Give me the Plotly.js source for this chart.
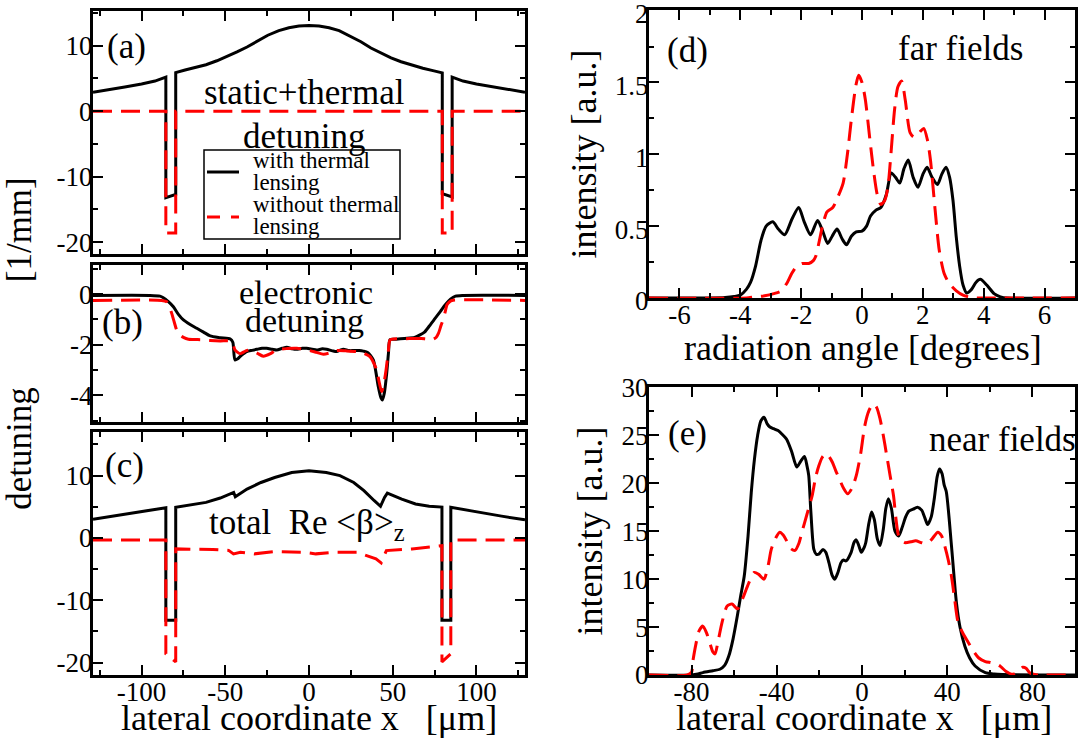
<!DOCTYPE html>
<html><head><meta charset="utf-8">
<script src="https://cdn.plot.ly/plotly-3.0.1.min.js"></script>
<style>html,body{margin:0;padding:0;background:#fff}</style>
</head><body><div id="chart" style="width:1083px;height:740px"></div>
<script>
// ---------- DATA ----------
// (a) static + thermal detuning [1/mm]
var aWithX = [-129,-120,-110,-100,-92,-85.5,-85.5,-79.6,-79.6,-74,-68,-61.5,-55,-49,-43,-37,-31,-24.6,-18,-12,-6,0,6,12,18,24.6,31,37,43,49,55,61.5,68,74,79.6,79.6,85.5,85.5,92,100,110,120,129];
var aWithY = [2.9,3.25,3.7,4.15,4.6,5.2,-13.2,-12.7,5.9,6.3,6.65,7.1,7.7,8.35,9.05,9.8,10.7,11.6,12.3,12.75,13.0,13.1,13.0,12.75,12.3,11.5,10.6,9.65,8.9,8.15,7.55,7.0,6.55,6.2,5.85,-12.6,-13.1,5.2,4.6,4.15,3.7,3.25,2.9];
var aWithoutX = [-129,-85.5,-85.5,-79.6,-79.6,79.6,79.6,85.5,85.5,129];
var aWithoutY = [0,0,-18.6,-18.6,0,0,-18.6,-18.6,0,0];

// (b) electronic detuning
var bWithX = [-129,-95,-89,-87,-84,-81,-78,-75,-71,-67,-63,-59,-53,-47,-45.5,-44.2,-42.5,-41.2,-39,-37.2,-34,-31.2,-28,-25.3,-22,-19.3,-16,-13.3,-10,-7.4,-4,-1.4,2,4.6,8,10.5,14,16.5,19,20.5,24,26.5,30,32.5,35,38.4,40,41.4,43,43.8,45,46.4,47.5,48.4,52,57,63,66,69,72,75.3,78.5,81.4,84.5,87.5,92,129];
var bWithY = [-0.05,-0.05,-0.08,-0.14,-0.3,-0.5,-0.8,-1.02,-1.2,-1.35,-1.5,-1.65,-1.72,-1.77,-1.9,-2.6,-2.55,-2.47,-2.35,-2.27,-2.22,-2.18,-2.14,-2.14,-2.18,-2.21,-2.14,-2.1,-2.16,-2.18,-2.14,-2.14,-2.18,-2.21,-2.16,-2.18,-2.24,-2.27,-2.2,-2.18,-2.23,-2.23,-2.23,-2.25,-2.3,-2.6,-3.1,-3.66,-4.1,-4.18,-3.9,-3.13,-2.3,-1.8,-1.78,-1.75,-1.71,-1.62,-1.5,-1.25,-0.96,-0.68,-0.42,-0.2,-0.08,-0.05,-0.05];
var bWithoutX = [-129,-88,-85,-83.5,-82,-80.5,-79,-77,-75,-72,-69,-64,-59,-53,-47,-45.5,-44.2,-41.2,-38,-35.2,-31,-27.3,-23,-19.3,-13,-7.3,-3,0.6,4.5,8.6,12.5,16.5,22,28.5,33,36.4,38.5,40.4,42,43.4,44.8,46,47.3,48.4,50.7,57,63,67,71,74,76,77.3,78.8,80.3,81.4,82.4,84,85.4,129];
var bWithoutY = [-0.25,-0.25,-0.3,-0.5,-0.76,-1.1,-1.42,-1.62,-1.71,-1.78,-1.79,-1.8,-1.83,-1.85,-1.85,-1.95,-2.2,-2.35,-2.25,-2.2,-2.33,-2.45,-2.35,-2.2,-2.15,-2.14,-2.18,-2.23,-2.3,-2.37,-2.32,-2.23,-2.24,-2.27,-2.35,-2.47,-2.7,-3.0,-3.5,-3.85,-3.5,-3.0,-2.3,-1.81,-1.77,-1.76,-1.75,-1.75,-1.78,-1.78,-1.7,-1.55,-1.25,-0.96,-0.68,-0.42,-0.3,-0.25,-0.25];

// (c) total Re<beta>_z
var cWithX = [-129,-115,-100,-86,-85.5,-85.5,-79.6,-79.6,-70,-61.5,-53,-46,-45,-44,-37,-28.7,-20.5,-10.3,0,10.3,18.5,26.7,32.8,39,42.7,45.1,46.8,55.4,63.6,71.8,79.4,79.4,84.7,84.7,95,105,115,129];
var cWithY = [3.0,3.6,4.2,4.8,4.85,-13.2,-13.2,4.9,5.3,5.7,6.4,7.2,7.3,6.6,7.84,8.9,9.7,10.5,10.77,10.5,10.0,8.9,7.6,5.97,5.07,6.5,7.2,6.24,5.44,5.07,4.95,-13.2,-13.2,4.9,4.4,3.95,3.5,2.9];
var cWithoutX = [-129,-85.5,-85.5,-79.6,-79.6,-70,-57.4,-48,-45.1,-41,-32.8,-20.5,-10.3,-3,4.1,16.4,28.7,34.9,40,43.1,46.2,61.5,70,79.4,79.4,84.7,84.7,129];
var cWithoutY = [-0.35,-0.35,-18.6,-19.9,-1.76,-1.76,-1.87,-2.0,-2.56,-2.3,-2.56,-2.19,-2.19,-2.3,-2.56,-2.3,-2.3,-2.83,-3.36,-4.0,-2.03,-1.76,-1.5,-1.23,-19.9,-18.6,-0.35,-0.35];

// (d) far fields
var dWithX = [-7,-5,-4.5,-4.2,-4.0,-3.8,-3.66,-3.5,-3.32,-3.15,-2.93,-2.75,-2.54,-2.3,-2.08,-1.9,-1.69,-1.46,-1.3,-1.13,-0.98,-0.82,-0.65,-0.51,-0.35,-0.19,0.0,0.15,0.28,0.45,0.62,0.8,0.96,1.1,1.24,1.38,1.52,1.68,1.84,2.0,2.14,2.3,2.48,2.62,2.76,2.88,2.99,3.1,3.21,3.32,3.44,3.6,3.75,3.89,4.1,4.34,4.55,4.79,7];
var dWithY = [0,0,0.003,0.01,0.02,0.06,0.11,0.22,0.40,0.50,0.53,0.48,0.44,0.55,0.63,0.53,0.44,0.54,0.47,0.38,0.43,0.48,0.41,0.37,0.43,0.46,0.465,0.50,0.57,0.61,0.63,0.72,0.87,0.84,0.80,0.90,0.96,0.84,0.77,0.86,0.91,0.84,0.79,0.86,0.91,0.84,0.68,0.42,0.22,0.09,0.035,0.06,0.11,0.13,0.09,0.03,0.008,0,0];
var dWithoutX = [-7,-3.8,-3.55,-3.2,-2.9,-2.65,-2.45,-2.31,-2.15,-1.97,-1.75,-1.6,-1.52,-1.4,-1.3,-1.15,-0.96,-0.8,-0.62,-0.48,-0.34,-0.2,-0.11,0.0,0.11,0.25,0.39,0.5,0.62,0.75,0.85,0.95,1.07,1.18,1.3,1.42,1.58,1.7,1.8,1.92,2.03,2.15,2.25,2.4,2.54,2.7,2.87,3.1,3.32,3.66,4,7];
var dWithoutY = [0,0,0.007,0.015,0.03,0.05,0.11,0.17,0.22,0.24,0.24,0.26,0.29,0.40,0.50,0.60,0.63,0.70,0.80,1.00,1.26,1.48,1.55,1.50,1.38,1.12,0.87,0.72,0.65,0.68,0.77,1.00,1.31,1.47,1.51,1.38,1.15,1.12,1.13,1.16,1.18,1.10,0.96,0.62,0.33,0.17,0.10,0.05,0.02,0.002,0,0];

// (e) near fields
var eWithX = [-100,-80,-77,-74.7,-70,-66.7,-64.5,-62.5,-60.5,-58.5,-57,-55.3,-53.5,-52,-50.5,-49,-47.5,-46,-44.5,-43.4,-41.5,-39.4,-37.4,-35.4,-33,-30.6,-28.8,-27,-25.8,-25,-24,-22.6,-21.5,-20.3,-18.3,-17,-15.5,-14,-12.8,-11.3,-9.9,-8.7,-7.5,-5.1,-3.8,-2.7,-1.5,-0.3,1.0,1.75,3.2,4.5,5.8,7.2,8.5,10,11.2,12.4,13.8,15.5,17.2,19,20.5,22,24,26,28,29.5,30.8,32.5,34,35.3,36.4,37.6,38.6,39.6,42,44.3,46,48.3,50.5,53.1,57.9,62,66,100];
var eWithY = [0,0,0.1,0.25,0.45,0.6,1.0,2.0,3.8,6.2,8.2,10.3,14.5,19,22.5,25,26.5,26.9,26.2,25.9,25.7,25.5,25.1,24.6,23.3,21.7,22.3,22.8,21.8,20.8,17,13.1,12.6,12.6,13.1,12.8,11.7,10.4,10.0,10.7,11.7,12.0,11.9,12.8,13.8,14.1,13.5,12.8,13.3,13.8,15.8,17,16.2,14.2,13.5,15.2,17.4,18.4,17.4,15.0,14.5,15.5,16.5,17.1,17.3,17.5,17.2,16.4,15.7,16.5,18.5,20.7,21.5,21.0,19.8,19.1,13.5,7.6,5.0,3.0,1.8,0.94,0.24,0.1,0.05,0];
var eWithoutX = [-100,-82,-80,-79.5,-78,-76.5,-74.7,-73,-71.5,-70,-69,-67.5,-65.7,-63.3,-61,-58.5,-56,-53.7,-50.6,-48.5,-46,-44,-42.6,-40.5,-38.6,-37,-35.4,-33.5,-31.4,-29.7,-28.2,-25.8,-23.4,-21.8,-20.3,-18.7,-17,-15.5,-13.9,-12.3,-10.7,-8.7,-6.7,-4.7,-2.7,-0.7,1.3,3.3,5.3,6.9,8.5,10,11.6,13.2,14.8,16,17.2,18.8,20.4,23,25.2,28,30,32.5,35.6,37.4,38.8,40.5,42,43.5,45.1,47.5,49.9,52.3,54.7,57.9,60.3,62.7,65,67.5,70.7,73,75.5,77,78.7,81,83,100];
var eWithoutY = [0,0,0.3,1.3,3.2,4.6,5.1,4.4,3.4,2.4,2.2,3.6,5.5,7.2,7.4,6.9,8.0,9.3,10.7,10.5,10.0,11.5,13.1,14.3,14.9,14.6,14.0,13.2,13.0,13.7,14.9,16.8,18.7,20.6,21.8,22.7,23.1,22.8,22.2,21.3,20.5,19.5,18.9,19.5,20.8,23.0,26.0,27.6,28.3,27.9,26.7,25.0,22.9,20.8,18.7,16.2,14.5,14.0,13.8,13.9,14.0,13.8,13.7,14.1,14.9,14.5,13.5,12.0,10.3,7.9,5.5,4.3,3.4,2.5,1.8,1.4,1.3,1.2,0.9,0.4,0.07,0.3,0.8,0.7,0.24,0.05,0,0];

// tick labels
var latTickVals = [-100,-50,0,50,100];
var latTickText = ['-100','-50','0','50','100'];
var detTickVals = [-20,-10,0,10];
var detTickText = ['-20','-10','0','10'];
var elTickVals = [-4,-2,0];
var elTickText = ['-4','-2','0'];
var angTickVals = [-6,-4,-2,0,2,4,6];
var angTickText = ['-6','-4','-2','0','2','4','6'];
var farTickVals = [0,0.5,1,1.5,2];
var farTickText = ['0','0.5','1','1.5','2'];
var nearXTickVals = [-80,-40,0,40,80];
var nearXTickText = ['-80','-40','0','40','80'];
var nearYTickVals = [0,5,10,15,20,25,30];
var nearYTickText = ['0','5','10','15','20','25','30'];

var seriesNames = ['with thermal lensing','without thermal lensing'];

// ---------- STYLE / LAYOUT ----------
var FONT = 'Liberation Serif';
var W = 1083, H = 740;
function px(x){return x/W;}
function py(y){return 1-y/H;}

function axis(dom, range, tv, tt, minorD, showLab, anchor, isY, extra){
  return Object.assign({
    domain: dom, range: range, anchor: anchor,
    tickmode:'array', tickvals: tv, ticktext: tt, showticklabels: showLab,
    ticks:'inside', ticklen:10, tickwidth:2, tickcolor:'#000',
    ticklabelstandoff: isY ? -8 : -9, ticklabeloverflow:'allow',
    minor:{ticks:'inside', ticklen:5, tickwidth:2, tickcolor:'#000', tickmode:'linear', tick0:0, dtick:minorD, showgrid:false},
    showline:true, linewidth:3, linecolor:'#000', mirror:'ticks',
    showgrid:false, zeroline:false, fixedrange:true,
    tickfont:{family:FONT, size:27, color:'#000'}
  }, extra||{});
}

var LX = [px(93), px(525)], RX = [px(649), px(1075)];
var titleFont = {family:FONT, size:36, color:'#000'};

var layout = {
  width:W, height:H, margin:{l:0,r:0,t:0,b:0}, paper_bgcolor:'#fff', plot_bgcolor:'#fff',
  showlegend:false, font:{family:FONT, color:'#000'},
  xaxis:  axis(LX, [-129,129], latTickVals, latTickText, 25, false, 'y', false),
  yaxis:  axis([py(254), py(11)], [-21.8,15.3], detTickVals, detTickText, 5, true, 'x', true),
  xaxis2: axis(LX, [-129,129], latTickVals, latTickText, 25, false, 'y2', false),
  yaxis2: axis([py(422), py(265)], [-5.05,1.15], elTickVals, elTickText, 1, true, 'x2', true,
           {title:{text:'detuning&nbsp;&nbsp;&nbsp;&nbsp;&nbsp;&nbsp;&nbsp;&nbsp;&nbsp;&nbsp;&nbsp;&nbsp;[1/mm]', font:{family:FONT, size:35, color:'#000'}, standoff:30}}),
  xaxis3: axis(LX, [-129,129], latTickVals, latTickText, 25, true, 'y3', false),
  yaxis3: axis([py(675), py(432)], [-22,17], detTickVals, detTickText, 5, true, 'x3', true),
  xaxis4: axis(RX, [-7,7], angTickVals, angTickText, 1, true, 'y4', false),
  yaxis4: axis([py(298), py(10)], [0,2.004], farTickVals, farTickText, 0.25, true, 'x4', true,
           {ticklabelshift:3, title:{text:'intensity [a.u.]', font:titleFont, standoff:8}}),
  xaxis5: axis(RX, [-100,100], nearXTickVals, nearXTickText, 20, true, 'y5', false),
  yaxis5: axis([py(675), py(387)], [0,30.05], nearYTickVals, nearYTickText, 2.5, true, 'x5', true,
           {title:{text:'intensity [a.u.]', font:titleFont, standoff:8}}),
  shapes: [
    {type:'rect', xref:'paper', yref:'paper', x0:px(204), x1:px(400), y0:py(239), y1:py(150),
     line:{color:'#000', width:1.5}, fillcolor:'#fff', layer:'above'},
    {type:'line', xref:'paper', yref:'paper', x0:px(207), x1:px(239), y0:py(172), y1:py(172),
     line:{color:'#000', width:3}, layer:'above'},
    {type:'line', xref:'paper', yref:'paper', x0:px(207), x1:px(239), y0:py(217), y1:py(217),
     line:{color:'#ff0000', width:3, dash:'13px,11px'}, layer:'above'}
  ],
  annotations: []
};

function ann(text, x, y, size, opts){
  layout.annotations.push(Object.assign({text:text, x:px(x), y:py(y), xref:'paper', yref:'paper',
    showarrow:false, xanchor:'center', yanchor:'middle', font:{family:FONT, size:size, color:'#000'}}, opts||{}));
}
// axis titles (x) placed as text under each bottom axis
ann('lateral coordinate x&nbsp;&nbsp;&nbsp;[μm]', 309, 718, 36);
ann('radiation angle [degrees]', 863, 348, 36);
ann('lateral coordinate x&nbsp;&nbsp;&nbsp;[μm]', 864, 718, 36);
// panel labels and in-plot texts
ann('(a)', 126, 46, 35);
ann('static+thermal', 304, 93, 35);
ann('detuning', 304, 136, 35);
ann('with thermal', 251, 160, 23, {xanchor:'left'});
ann('lensing', 251, 182, 23, {xanchor:'left'});
ann('without thermal', 251, 205, 23, {xanchor:'left'});
ann('lensing', 251, 227, 23, {xanchor:'left'});
ann('(b)', 122, 322, 35);
ann('electronic', 306, 292, 34);
ann('detuning', 304, 320, 34);
ann('(c)', 124, 465, 35);
ann('total&nbsp; Re &lt;β&gt;<sub>z</sub>', 207, 524, 35, {xanchor:'left'});
ann('(d)', 687, 51, 35);
ann('far fields', 960, 49, 35);
ann('(e)', 687, 433, 35);
ann('near fields', 1002, 439, 35);

var BLACK = {color:'#000', width:3};
var RED = {color:'#ff0000', width:3, dash:'19px,9px'};
function tr(x, y, xa, ya, line, name, shape){
  return {x:x, y:y, xaxis:xa, yaxis:ya, type:'scatter', mode:'lines', name:name,
          line:Object.assign({shape:shape||'linear', smoothing:0.7}, line), hoverinfo:'skip'};
}
var data = [
  tr(aWithX, aWithY, 'x', 'y', BLACK, seriesNames[0]),
  tr(aWithoutX, aWithoutY, 'x', 'y', RED, seriesNames[1]),
  tr(bWithX, bWithY, 'x2', 'y2', BLACK, seriesNames[0], 'spline'),
  tr(bWithoutX, bWithoutY, 'x2', 'y2', RED, seriesNames[1], 'spline'),
  tr(cWithX, cWithY, 'x3', 'y3', BLACK, seriesNames[0]),
  tr(cWithoutX, cWithoutY, 'x3', 'y3', RED, seriesNames[1]),
  tr(dWithX, dWithY, 'x4', 'y4', BLACK, seriesNames[0], 'spline'),
  tr(dWithoutX, dWithoutY, 'x4', 'y4', RED, seriesNames[1], 'spline'),
  tr(eWithX, eWithY, 'x5', 'y5', BLACK, seriesNames[0], 'spline'),
  tr(eWithoutX, eWithoutY, 'x5', 'y5', RED, seriesNames[1], 'spline')
];

Plotly.newPlot('chart', data, layout, {displayModeBar:false, staticPlot:true});
</script></body></html>
